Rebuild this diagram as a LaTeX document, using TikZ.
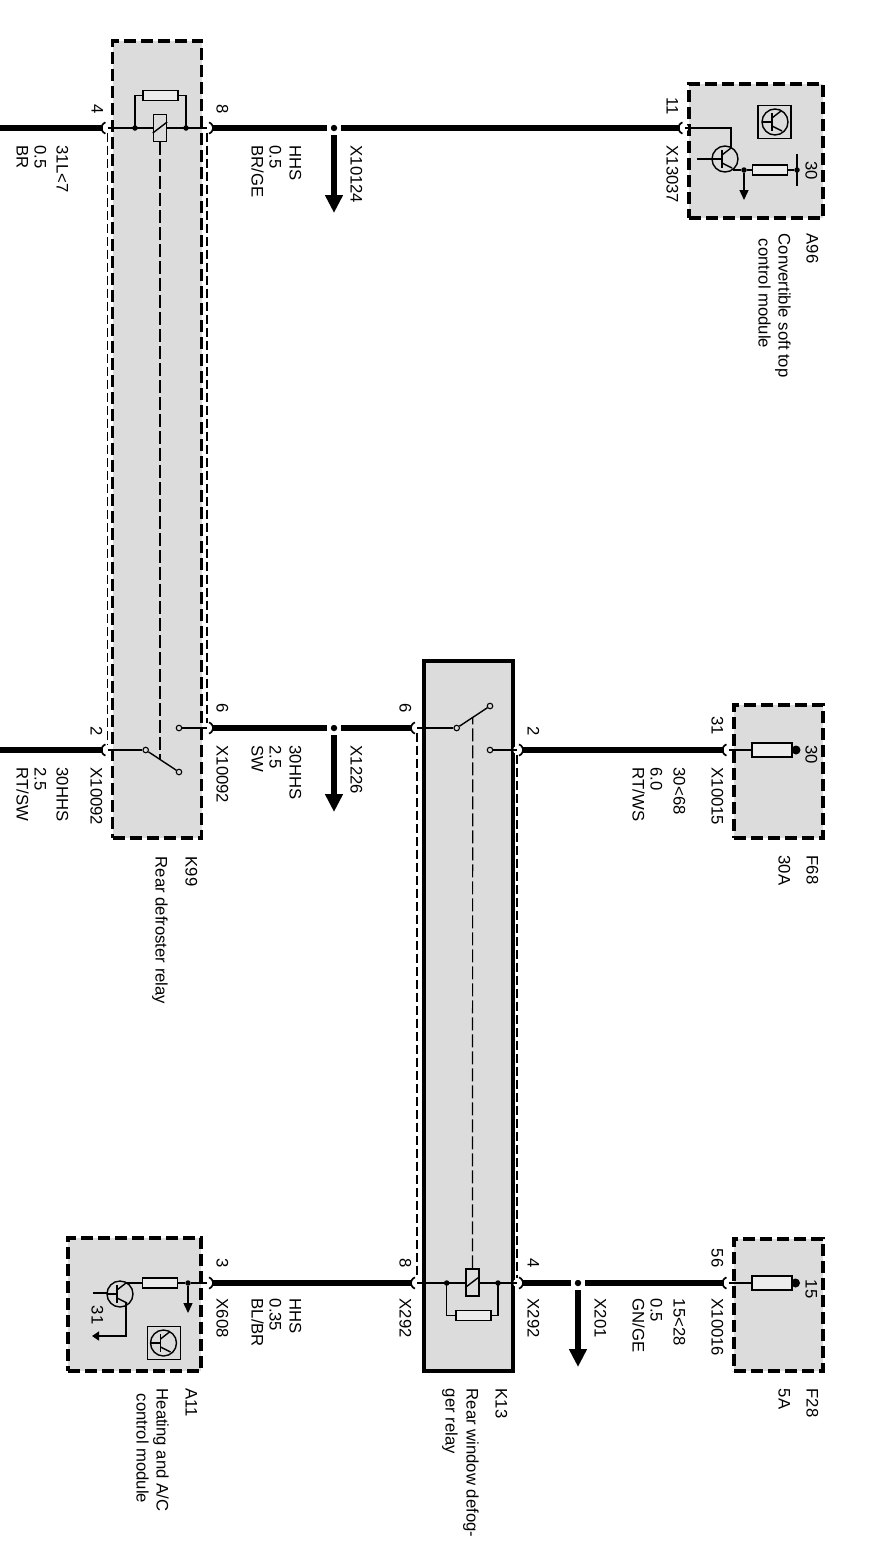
\documentclass[tikz,border=0pt]{standalone}
\usepackage{fontspec}
\setmainfont{Liberation Sans}
\usetikzlibrary{arrows.meta}

\begin{document}
\begin{tikzpicture}[x=1pt, y=1pt, line width=1.4pt, font=\fontsize{16.7}{19}\selectfont]
  \useasboundingbox (0,0) rectangle (889,-1561);

  \definecolor{boxgray}{HTML}{DCDCDC}
  \definecolor{resgray}{HTML}{ECECEC}

  \tikzset{
    dbox/.style={
      draw=black,
      fill=boxgray,
      line width=3.3pt,
      dash pattern=on 12pt off 5pt},
    sbox/.style={
      draw=black,
      fill=boxgray,
      line width=3.3pt},
    lbl/.style={
      xshift=1.5pt,
      rotate=-90,
      anchor=base west,
      inner sep=0pt},
    wire/.style={
      line width=5.8pt},
    link/.style={
      line width=1.1pt,
      dash pattern=on 9pt off 4pt},
    mech/.style={
      line width=1.2pt,
      dash pattern=on 13pt off 4pt},
    pin/.style={
      circle,
      fill=white,
      inner sep=0pt,
      minimum size=8pt},
    hook/.style={
      line width=1.7pt},
    junc/.style={
      circle,
      draw=white,
      fill=black,
      line width=3.5pt,
      inner sep=0pt,
      minimum size=10.5pt},
    res/.style={
      draw=black,
      fill=resgray,
      inner sep=0pt,
      minimum width=35pt,
      minimum height=10pt},
    fuse/.style={
      draw=black,
      fill=resgray,
      inner sep=0pt,
      minimum width=40pt,
      minimum height=14pt},
    coil/.style={
      draw=black,
      fill=boxgray,
      inner sep=0pt,
      minimum width=13pt,
      minimum height=27pt},
    dot/.style={
      circle,
      fill=black,
      inner sep=0pt,
      minimum size=5.5pt},
    bigdot/.style={
      circle,
      fill=black,
      inner sep=0pt,
      minimum size=9pt},
    contact/.style={
      circle,
      draw=black,
      fill=boxgray,
      inner sep=0pt,
      line width=1.1pt,
      minimum size=5.5pt},
    icbox/.style={
      draw=black,
      inner sep=0pt,
      minimum size=33pt},
    bigarrow/.style={
      line width=5.8pt,
      -{Triangle[width=17pt,length=18pt]}},
    smallarrow/.style={
      -{Triangle[width=9pt,length=10pt]}},
    bjt/.pic={
      \draw (0,0) circle (13);
      \draw (-3,9) -- (-3,-9);
      \draw (-3,4) -- (6,11);
      \draw (-3,-4) -- (7,-9);
      \draw (-13,0) -- (-3,0);
    }}

  % boxes
  \node[dbox, minimum width=89pt, minimum height=797pt] (k99) at (157,-439.5) {};
  \node[sbox, minimum width=89pt, minimum height=710pt] (k13) at (468.5,-1016) {};
  \node[dbox, minimum width=134pt, minimum height=134pt] (a96) at (756,-151) {};
  \node[dbox, minimum width=89pt, minimum height=133pt] (f68) at (778.5,-771.5) {};
  \node[dbox, minimum width=89pt, minimum height=132pt] (f28) at (778.5,-1305) {};
  \node[dbox, minimum width=133pt, minimum height=133pt] (a11) at (134.5,-1304.5) {};

  % pins
  \node[pin] (p4) at (107.5,-128) {};
  \node[pin] (p8) at (207,-128) {};
  \node[pin] (p11) at (684.5,-128) {};
  \node[pin] (p2a) at (107.5,-750) {};
  \node[pin] (p6a) at (207,-728) {};
  \node[pin] (p6b) at (417,-728) {};
  \node[pin] (p2b) at (517,-750) {};
  \node[pin] (p31) at (728.5,-750) {};
  \node[pin] (p3) at (207,-1283) {};
  \node[pin] (p8b) at (417,-1283) {};
  \node[pin] (p4b) at (517,-1283) {};
  \node[pin] (p56) at (728.5,-1283) {};

  % relay links
  \draw[link] (p4) -- (p2a);
  \draw[link] (p8) -- (p6a);
  \draw[link] (p6b) -- (p8b);
  \draw[link] (p2b) -- (p4b);

  % junctions and free wire ends
  \node[junc] (j1) at (334,-128) {};
  \node[junc] (j2) at (334,-728) {};
  \node[junc] (j3) at (578,-1283) {};
  \coordinate (w4) at (0,-128);
  \coordinate (w2) at (0,-750);
  \coordinate (t1) at (334,-213);
  \coordinate (t2) at (334,-812);
  \coordinate (t3) at (578,-1367);

  % main wires
  \draw[wire] (w4) -- (p4);
  \draw[wire] (p8) -- (j1);
  \draw[wire] (j1) -- (p11);
  \draw[wire] (w2) -- (p2a);
  \draw[wire] (p6a) -- (j2);
  \draw[wire] (j2) -- (p6b);
  \draw[wire] (p2b) -- (p31);
  \draw[wire] (p3) -- (p8b);
  \draw[wire] (p4b) -- (j3);
  \draw[wire] (j3) -- (p56);
  \draw[bigarrow] (j1) -- (t1);
  \draw[bigarrow] (j2) -- (t2);
  \draw[bigarrow] (j3) -- (t3);

  % hooks, opening towards the box
  \draw[hook] (p4.center) ++(110:6) arc[start angle=110, end angle=250, radius=6];
  \draw[hook] (p2a.center) ++(110:6) arc[start angle=110, end angle=250, radius=6];
  \draw[hook] (p6b.center) ++(110:6) arc[start angle=110, end angle=250, radius=6];
  \draw[hook] (p8b.center) ++(110:6) arc[start angle=110, end angle=250, radius=6];
  \draw[hook] (p11.center) ++(110:6) arc[start angle=110, end angle=250, radius=6];
  \draw[hook] (p31.center) ++(110:6) arc[start angle=110, end angle=250, radius=6];
  \draw[hook] (p56.center) ++(110:6) arc[start angle=110, end angle=250, radius=6];
  \draw[hook] (p8.center) ++(70:6) arc[start angle=70, end angle=-70, radius=6];
  \draw[hook] (p6a.center) ++(70:6) arc[start angle=70, end angle=-70, radius=6];
  \draw[hook] (p2b.center) ++(70:6) arc[start angle=70, end angle=-70, radius=6];
  \draw[hook] (p4b.center) ++(70:6) arc[start angle=70, end angle=-70, radius=6];
  \draw[hook] (p3.center) ++(70:6) arc[start angle=70, end angle=-70, radius=6];

  % K99 relay
  \node[dot] (d1) at (135,-128) {};
  \node[dot] (d2) at (186,-128) {};
  \node[res] (r1) at (160.5,-95.5) {};
  \draw (p4.center) -- (p8.center);
  \draw (d1.center) |- (r1.west);
  \draw (r1.east) -| (d2.center);
  \node[coil] (c1) at (160,-128) {};
  \draw ([yshift=-5pt]c1.west) -- ([yshift=6pt]c1.east);
  \node[contact] (s1) at (145.7,-750) {};
  \node[contact] (s2) at (179,-772) {};
  \node[contact] (s3) at (179,-728) {};
  \draw (p2a.center) -- (s1);
  \draw (s1) -- (s2);
  \draw (s3) -- (p6a.center);
  \coordinate (m1) at (160,-759);
  \draw[mech] (c1.south) -- (m1);

  % K13 relay
  \node[dot] (d3) at (446.7,-1283) {};
  \node[dot] (d4) at (498,-1283) {};
  \node[res] (r2) at (473.3,-1315.5) {};
  \draw (p8b.center) -- (p4b.center);
  \draw (d3.center) |- (r2.west);
  \draw (r2.east) -| (d4.center);
  \node[coil] (c2) at (472.5,-1282.5) {};
  \draw ([yshift=-5pt]c2.west) -- ([yshift=6pt]c2.east);
  \node[contact] (s4) at (456.7,-728) {};
  \node[contact] (s5) at (490,-706) {};
  \node[contact] (s6) at (490,-750) {};
  \draw (p6b.center) -- (s4);
  \draw (s4) -- (s5);
  \draw (s6) -- (p2b.center);
  \coordinate (m2) at (472.7,-718);
  \draw[mech] (c2.north) -- (m2);

  % fuses
  \node[bigdot] (e1) at (796,-750) {};
  \node[bigdot] (e2) at (795.5,-1283) {};
  \draw (p31.center) -- (e1);
  \draw (p56.center) -- (e2);
  \node[fuse] (f1) at (772,-750) {};
  \node[fuse] (f2) at (772,-1283) {};

  % A96 module
  \pic at (725,-159) {bjt};
  \coordinate (q1c) at (731,-148);
  \coordinate (q1e) at (733,-170);
  \coordinate (q1b) at (697,-159);
  \coordinate (q1i) at (712,-159);
  \draw (p11.center) -| (q1c);
  \draw (q1b) -- (q1i);
  \node[dot] (d5) at (744,-170) {};
  \node[res] (r3) at (770,-170) {};
  \node[dot] (d6) at (797,-170) {};
  \coordinate (b1) at (797,-154);
  \coordinate (b2) at (797,-186);
  \coordinate (g1) at (744,-200);
  \draw (q1e) -- (d5) -- (r3) -- (d6);
  \draw (b1) -- (b2);
  \draw[smallarrow] (d5) -- (g1);
  \node[icbox] (ic1) at (774.5,-122) {};
  \pic at (775,-122) {bjt};

  % A11 module
  \pic at (120,-1294) {bjt};
  \coordinate (q2c) at (126,-1283);
  \coordinate (q2e) at (126,-1303);
  \coordinate (q2b) at (93,-1293);
  \coordinate (q2i) at (107,-1293);
  \coordinate (g2) at (188,-1313);
  \coordinate (g3) at (92,-1336);
  \node[dot] (d7) at (188,-1283) {};
  \node[res] (r4) at (160,-1283) {};
  \draw (p3.center) -- (d7) -- (r4) -- (q2c);
  \draw (q2b) -- (q2i);
  \draw[smallarrow] (d7) -- (g2);
  \draw[-{Triangle[width=9pt,length=7pt]}] (q2e) |- (g3);
  \node[icbox] (ic2) at (164,-1343) {};
  \pic at (163.5,-1343) {bjt};

  % pin numbers
  \node[lbl] (n4) at (90,-104) {4};
  \node[lbl] (n8) at (215,-104) {8};
  \node[lbl] (n11) at (665,-97) {11};
  \node[lbl] (n2a) at (89,-726) {2};
  \node[lbl] (n6a) at (215,-703) {6};
  \node[lbl] (n6b) at (398,-703) {6};
  \node[lbl] (n2b) at (526,-726) {2};
  \node[lbl] (n31) at (710,-716) {31};
  \node[lbl] (n3) at (215,-1258) {3};
  \node[lbl] (n8b) at (398,-1258) {8};
  \node[lbl] (n4b) at (526,-1258) {4};
  \node[lbl] (n56) at (710,-1248) {56};
  \node[lbl] (n30a) at (804,-161) {30};
  \node[lbl] (n30b) at (804,-745) {30};
  \node[lbl] (n15) at (804,-1279) {15};
  \node[lbl] (n31b) at (90,-1305) {31};

  % top row labels
  \node[lbl] (t1a) at (55,-145) {31L<7};
  \node[lbl] (t1b) at (33,-145) {0.5};
  \node[lbl] (t1c) at (15,-145) {BR};
  \node[lbl] (t2a) at (288,-145) {HHS};
  \node[lbl] (t2b) at (268,-145) {0.5};
  \node[lbl] (t2c) at (250,-145) {BR/GE};
  \node[lbl] (t2d) at (349,-145) {X10124};
  \node[lbl] (t3a) at (665,-145) {X13037};

  % middle row labels
  \node[lbl] (m1a) at (89,-767) {X10092};
  \node[lbl] (m1b) at (55,-767) {30HHS};
  \node[lbl] (m1c) at (33,-767) {2.5};
  \node[lbl] (m1d) at (15,-767) {RT/SW};
  \node[lbl] (m2a) at (215,-745) {X10092};
  \node[lbl] (m2b) at (288,-745) {30HHS};
  \node[lbl] (m2c) at (268,-745) {2.5};
  \node[lbl] (m2d) at (250,-745) {SW};
  \node[lbl] (m2e) at (349,-745) {X1226};
  \node[lbl] (m3a) at (710,-767) {X10015};
  \node[lbl] (m3b) at (672,-767) {30<68};
  \node[lbl] (m3c) at (649,-767) {6.0};
  \node[lbl] (m3d) at (631,-767) {RT/WS};

  % bottom row labels
  \node[lbl] (b1a) at (215,-1298) {X608};
  \node[lbl] (b1b) at (288,-1298) {HHS};
  \node[lbl] (b1c) at (268,-1298) {0.35};
  \node[lbl] (b1d) at (250,-1298) {BL/BR};
  \node[lbl] (b1e) at (398,-1298) {X292};
  \node[lbl] (b2a) at (526,-1298) {X292};
  \node[lbl] (b2b) at (593,-1298) {X201};
  \node[lbl] (b2c) at (672,-1298) {15<28};
  \node[lbl] (b2d) at (649,-1298) {0.5};
  \node[lbl] (b2e) at (631,-1298) {GN/GE};
  \node[lbl] (b2f) at (710,-1298) {X10016};

  % component names
  \node[lbl] (a96a) at (805,-233) {A96};
  \node[lbl] (a96b) at (777,-233) {Convertible soft top};
  \node[lbl] (a96c) at (757,-238) {control module};
  \node[lbl] (f68a) at (805,-855) {F68};
  \node[lbl] (f68b) at (777,-855) {30A};
  \node[lbl] (k99a) at (184,-856) {K99};
  \node[lbl] (k99b) at (154,-856) {Rear defroster relay};
  \node[lbl] (a11a) at (184,-1388) {A11};
  \node[lbl] (a11b) at (155,-1388) {Heating and A/C};
  \node[lbl] (a11c) at (135,-1393) {control module};
  \node[lbl] (k13a) at (494,-1388) {K13};
  \node[lbl] (k13b) at (465,-1388) {Rear window defog-};
  \node[lbl] (k13c) at (444,-1388) {ger relay};
  \node[lbl] (f28a) at (805,-1388) {F28};
  \node[lbl] (f28b) at (777,-1388) {5A};

\end{tikzpicture}
\end{document}
